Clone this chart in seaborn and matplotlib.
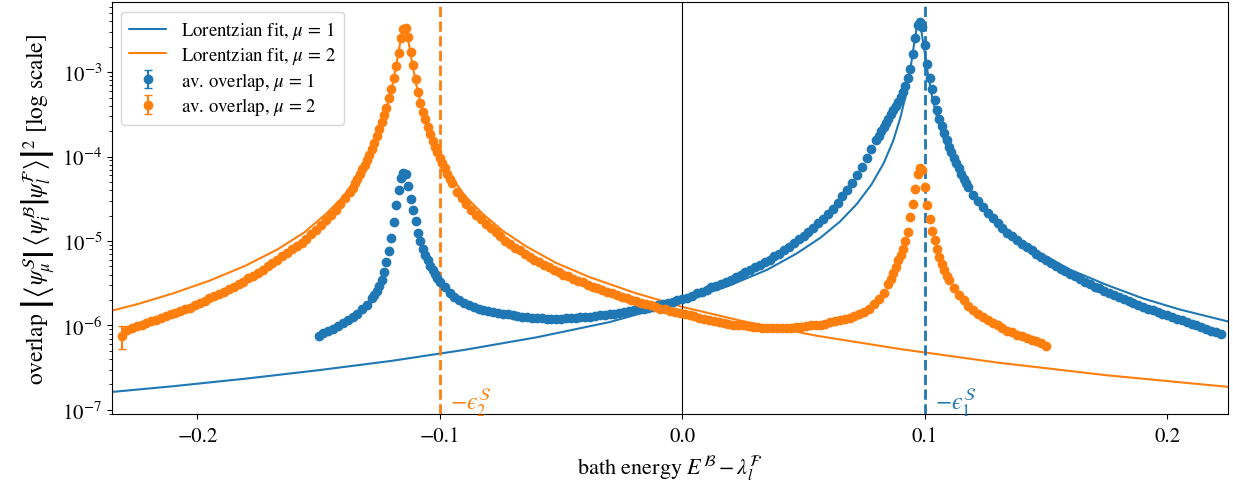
"""
Overlap of system/bath states vs bath energy, with Lorentzian fits.
Values were read off the reference figure; overlaps are stored as log10.
"""

import numpy as np
import pandas as pd
import matplotlib
matplotlib.use("Agg")
import matplotlib.pyplot as plt
import seaborn as sns

# ─── Averaged overlap, mu = 1 (blue) ───────────────────────────────────────────

blue_x = [
    -0.150, -0.148, -0.146, -0.144, -0.142, -0.140, -0.138, -0.136, -0.134, -0.132,
    -0.130,
    -0.128, -0.127, -0.126, -0.125, -0.124, -0.123, -0.122, -0.121, -0.120, -0.119,
    -0.118, -0.117, -0.116, -0.115, -0.114, -0.113, -0.112, -0.111, -0.110, -0.109,
    -0.108, -0.107, -0.106, -0.105, -0.104, -0.103, -0.102, -0.101, -0.100,
    -0.098, -0.096, -0.094, -0.092, -0.090, -0.088, -0.086, -0.084, -0.082, -0.080,
    -0.078, -0.076, -0.074, -0.072, -0.070, -0.068, -0.066, -0.064, -0.062, -0.060,
    -0.058, -0.056, -0.054, -0.052, -0.050, -0.048, -0.046, -0.044, -0.042, -0.040,
    -0.038, -0.036, -0.034, -0.032, -0.030, -0.028, -0.026, -0.024, -0.022, -0.020,
    -0.018, -0.016, -0.014, -0.012, -0.010, -0.008, -0.006, -0.004, -0.002,
    0.000, 0.002, 0.004, 0.006, 0.008, 0.010, 0.012, 0.014, 0.016, 0.018,
    0.020, 0.022, 0.024, 0.026, 0.028, 0.030, 0.032, 0.034, 0.036, 0.038,
    0.040, 0.042, 0.044, 0.046, 0.048, 0.050, 0.052, 0.054, 0.056, 0.058,
    0.060, 0.062,
    0.064, 0.066, 0.068, 0.070, 0.072, 0.074, 0.076, 0.078, 0.080,
    0.081, 0.082, 0.083, 0.084, 0.085, 0.086, 0.087, 0.088, 0.089, 0.090,
    0.091, 0.092, 0.093, 0.094, 0.095, 0.096, 0.097, 0.098, 0.099, 0.100,
    0.101, 0.102, 0.103, 0.104, 0.105, 0.106, 0.107, 0.108, 0.109, 0.110,
    0.111, 0.112, 0.113, 0.114, 0.115, 0.116, 0.117, 0.118,
    0.120, 0.122, 0.124, 0.126, 0.128, 0.130, 0.132, 0.134, 0.136, 0.138,
    0.140, 0.142, 0.144, 0.146, 0.148, 0.150, 0.152, 0.154, 0.156, 0.158,
    0.160, 0.162, 0.164, 0.166, 0.168, 0.170, 0.172, 0.174, 0.176, 0.178,
    0.180, 0.182, 0.184, 0.186, 0.188, 0.190, 0.192, 0.194, 0.196, 0.198,
    0.200, 0.202, 0.204, 0.206, 0.208, 0.210, 0.212, 0.214, 0.216, 0.218,
    0.220, 0.222,
]
blue_log = [
    -6.12, -6.09, -6.07, -6.04, -6.01, -5.97, -5.94, -5.90, -5.86, -5.81,
    -5.76,
    -5.68, -5.64, -5.59, -5.53, -5.46, -5.37, -5.25, -5.12, -4.96, -4.78,
    -4.57, -4.39, -4.25, -4.19, -4.21, -4.35, -4.50, -4.63, -4.76, -4.90,
    -5.00, -5.09, -5.16, -5.23, -5.29, -5.34, -5.39, -5.44, -5.48,
    -5.55, -5.61, -5.66, -5.70, -5.73, -5.76, -5.78, -5.80, -5.82, -5.83,
    -5.84, -5.85, -5.86, -5.87, -5.88, -5.89, -5.90, -5.90, -5.91, -5.91,
    -5.91, -5.92, -5.92, -5.92, -5.92, -5.91, -5.91, -5.91, -5.90, -5.90,
    -5.90, -5.89, -5.88, -5.88, -5.87, -5.86, -5.85, -5.84, -5.83, -5.82,
    -5.81, -5.80, -5.79, -5.78, -5.76, -5.75, -5.73, -5.72, -5.70,
    -5.69, -5.67, -5.65, -5.62, -5.60, -5.58, -5.55, -5.53, -5.51, -5.48,
    -5.46, -5.43, -5.40, -5.37, -5.34, -5.31, -5.28, -5.25, -5.22, -5.18,
    -5.15, -5.11, -5.07, -5.02, -4.98, -4.94, -4.89, -4.84, -4.79, -4.74,
    -4.68, -4.62,
    -4.55, -4.47, -4.39, -4.31, -4.22, -4.12, -4.02, -3.91, -3.80,
    -3.75, -3.70, -3.65, -3.60, -3.55, -3.50, -3.45, -3.40, -3.35, -3.29,
    -3.23, -3.16, -3.07, -2.96, -2.79, -2.60, -2.44, -2.40, -2.46, -2.68,
    -2.90, -3.07, -3.20, -3.33, -3.45, -3.55, -3.64, -3.72, -3.80, -3.88,
    -3.95, -4.02, -4.08, -4.14, -4.20, -4.26, -4.31, -4.36,
    -4.45, -4.53, -4.60, -4.67, -4.73, -4.79, -4.84, -4.90, -4.94, -4.99,
    -5.03, -5.07, -5.11, -5.15, -5.19, -5.22, -5.26, -5.30, -5.33, -5.36,
    -5.39, -5.42, -5.45, -5.48, -5.51, -5.54, -5.56, -5.59, -5.62, -5.64,
    -5.66, -5.69, -5.71, -5.73, -5.76, -5.78, -5.80, -5.82, -5.84, -5.86,
    -5.88, -5.90, -5.92, -5.94, -5.96, -5.98, -6.00, -6.02, -6.04, -6.06,
    -6.08, -6.10,
]

# ─── Averaged overlap, mu = 2 (orange) ─────────────────────────────────────────

orange_x = [
    -0.231, -0.229, -0.227, -0.225, -0.223, -0.221, -0.219, -0.217, -0.215, -0.213,
    -0.211, -0.209, -0.207, -0.205, -0.203, -0.201, -0.199, -0.197, -0.195, -0.193,
    -0.191, -0.189, -0.187, -0.185, -0.183, -0.181, -0.179, -0.177, -0.175, -0.173,
    -0.171, -0.169, -0.167, -0.165, -0.163, -0.161, -0.159,
    -0.157, -0.155, -0.153, -0.151, -0.149, -0.147, -0.145, -0.143, -0.141, -0.139,
    -0.137,
    -0.136, -0.135, -0.134, -0.133, -0.132, -0.131, -0.130, -0.129, -0.128, -0.127,
    -0.126, -0.125, -0.124, -0.123, -0.122, -0.121, -0.120, -0.119, -0.118, -0.117,
    -0.116, -0.115, -0.114, -0.113, -0.112, -0.111, -0.110, -0.109, -0.108, -0.107,
    -0.106, -0.105, -0.104, -0.103, -0.102, -0.101, -0.100, -0.099, -0.098, -0.097,
    -0.096, -0.095,
    -0.093, -0.091, -0.089, -0.087, -0.085, -0.083, -0.081, -0.079, -0.077, -0.075,
    -0.073, -0.071, -0.069, -0.067, -0.065, -0.063, -0.061, -0.059, -0.057, -0.055,
    -0.053, -0.051, -0.049, -0.047, -0.045, -0.043, -0.041, -0.039, -0.037, -0.035,
    -0.033, -0.031, -0.029, -0.027, -0.025, -0.023, -0.021, -0.019, -0.017, -0.015,
    -0.013, -0.011, -0.009, -0.007, -0.005, -0.003, -0.001,
    0.001, 0.003, 0.005, 0.007, 0.009, 0.011, 0.013, 0.015, 0.017, 0.019,
    0.021, 0.023, 0.025, 0.027, 0.029, 0.031, 0.033, 0.035, 0.037, 0.039,
    0.041, 0.043, 0.045, 0.047, 0.049, 0.051, 0.053, 0.055, 0.057, 0.059,
    0.061, 0.063, 0.065, 0.067, 0.069, 0.071, 0.073, 0.075, 0.077, 0.079,
    0.081, 0.083,
    0.085, 0.086, 0.087, 0.088, 0.089, 0.090, 0.091, 0.092, 0.093, 0.094,
    0.095, 0.096, 0.097, 0.098, 0.099, 0.100, 0.101, 0.102, 0.103, 0.104,
    0.105, 0.106, 0.107, 0.108, 0.109, 0.110,
    0.112, 0.114, 0.116, 0.118, 0.120, 0.122, 0.124, 0.126, 0.128, 0.130,
    0.132, 0.134, 0.136, 0.138, 0.140, 0.142, 0.144, 0.146, 0.148, 0.150,
]
orange_log = [
    -6.12, -6.05, -6.03, -6.01, -5.99, -5.97, -5.95, -5.93, -5.91, -5.89,
    -5.87, -5.85, -5.83, -5.81, -5.79, -5.76, -5.73, -5.71, -5.68, -5.65,
    -5.63, -5.60, -5.57, -5.54, -5.51, -5.48, -5.44, -5.41, -5.38, -5.34,
    -5.30, -5.26, -5.22, -5.18, -5.14, -5.10, -5.06,
    -5.02, -4.97, -4.92, -4.87, -4.81, -4.75, -4.69, -4.63, -4.56, -4.49,
    -4.42,
    -4.37, -4.31, -4.26, -4.20, -4.15, -4.10, -4.04, -3.98, -3.91, -3.84,
    -3.75, -3.67, -3.59, -3.51, -3.42, -3.31, -3.20, -3.07, -2.93, -2.77,
    -2.60, -2.49, -2.48, -2.58, -2.76, -2.92, -3.08, -3.23, -3.36, -3.47,
    -3.56, -3.65, -3.73, -3.81, -3.88, -3.95, -4.02, -4.08, -4.14, -4.20,
    -4.26, -4.31,
    -4.42, -4.49, -4.56, -4.63, -4.69, -4.74, -4.80, -4.85, -4.89, -4.94,
    -5.00, -5.04, -5.08, -5.11, -5.15, -5.19, -5.22, -5.25, -5.28, -5.31,
    -5.34, -5.37, -5.40, -5.42, -5.45, -5.47, -5.49, -5.52, -5.54, -5.56,
    -5.58, -5.60, -5.62, -5.64, -5.66, -5.68, -5.70, -5.71, -5.73, -5.75,
    -5.76, -5.78, -5.80, -5.81, -5.83, -5.84, -5.85,
    -5.87, -5.88, -5.89, -5.91, -5.92, -5.93, -5.95, -5.96, -5.97, -5.98,
    -5.99, -6.00, -6.00, -6.01, -6.02, -6.02, -6.03, -6.03, -6.03, -6.03,
    -6.03, -6.03, -6.03, -6.02, -6.02, -6.01, -6.00, -6.00, -5.99, -5.98,
    -5.96, -5.95, -5.94, -5.92, -5.91, -5.89, -5.87, -5.84, -5.80, -5.75,
    -5.69, -5.61,
    -5.51, -5.45, -5.38, -5.31, -5.23, -5.16, -5.09, -5.00, -4.89, -4.72,
    -4.56, -4.38, -4.21, -4.13, -4.16, -4.36, -4.57, -4.74, -4.88, -4.99,
    -5.10, -5.19, -5.27, -5.34, -5.41, -5.46,
    -5.56, -5.64, -5.70, -5.77, -5.82, -5.86, -5.90, -5.94, -5.97, -6.00,
    -6.03, -6.06, -6.08, -6.11, -6.13, -6.15, -6.17, -6.19, -6.21, -6.24,
]
# only the outermost orange point has an error bar larger than its marker
orange_err_head = [2.3e-7]

# ─── Lorentzian fits (sampled off the figure) ──────────────────────────────────

blue_fit_x = [
    -0.236, -0.21, -0.18, -0.15, -0.12, -0.09, -0.06, -0.03, 0.0, 0.02,
    0.035, 0.047, 0.057, 0.065, 0.072, 0.078, 0.083, 0.087, 0.090, 0.092,
    0.094, 0.0955, 0.0965, 0.0975, 0.0985, 0.0995, 0.101, 0.103, 0.105, 0.108,
    0.112, 0.117, 0.123, 0.130, 0.138, 0.148, 0.160, 0.175, 0.190, 0.205,
    0.226,
]
blue_fit_log = [
    -6.79, -6.72, -6.63, -6.53, -6.42, -6.29, -6.14, -5.96, -5.72, -5.52,
    -5.34, -5.15, -4.96, -4.77, -4.56, -4.33, -4.08, -3.81, -3.53, -3.29,
    -2.97, -2.68, -2.50, -2.41, -2.50, -2.68, -2.97, -3.29, -3.53, -3.81,
    -4.08, -4.33, -4.56, -4.77, -4.96, -5.15, -5.34, -5.52, -5.68, -5.81,
    -5.96,
]
orange_fit_x = [
    -0.236, -0.225, -0.21, -0.195, -0.18, -0.167, -0.156, -0.147, -0.140, -0.134,
    -0.129, -0.125, -0.122, -0.1195, -0.1175, -0.116, -0.1146, -0.1132, -0.1117, -0.1097,
    -0.1072, -0.1042, -0.1002, -0.0952, -0.0892, -0.0822, -0.074, -0.064, -0.052, -0.038,
    -0.02, 0.0, 0.025, 0.055, 0.09, 0.13, 0.175, 0.226,
]
orange_fit_log = [
    -5.83, -5.75, -5.62, -5.47, -5.29, -5.10, -4.90, -4.68, -4.48, -4.24,
    -3.99, -3.72, -3.45, -3.15, -2.84, -2.59, -2.48, -2.59, -2.84, -3.15,
    -3.45, -3.72, -3.99, -4.24, -4.48, -4.68, -4.88, -5.07, -5.26, -5.43,
    -5.61, -5.78, -5.95, -6.12, -6.28, -6.44, -6.59, -6.73,
]

# system energies eps_mu^S; the dashed lines sit at -eps
eps_S = [-0.1, 0.1]

# ─── Style ─────────────────────────────────────────────────────────────────────

BLUE = "#1f77b4"
ORANGE = "#ff7f0e"

sns.set_theme(style="ticks")
plt.rcParams.update({
    "font.family": "serif",
    "font.serif": ["STIXGeneral", "Liberation Serif", "DejaVu Serif"],
    "mathtext.fontset": "stix",
    "font.size": 15,
    "axes.edgecolor": "black",
    "axes.linewidth": 0.8,
    "axes.labelcolor": "black",
    "text.color": "black",
    "xtick.color": "black",
    "ytick.color": "black",
    "xtick.major.size": 3.5,
    "ytick.major.size": 3.5,
    "ytick.minor.size": 2,
    "xtick.major.width": 0.8,
    "ytick.major.width": 0.8,
    "ytick.minor.width": 0.6,
    "xtick.major.pad": 5,
    "xtick.labelsize": 15,
    "ytick.labelsize": 15,
})

# ─── Plot ──────────────────────────────────────────────────────────────────────

fig, ax = plt.subplots(figsize=(12.33, 4.89), dpi=100)
fig.subplots_adjust(left=0.0908, right=0.9957, bottom=0.1513, top=0.9933)

fits = [
    (blue_fit_x, blue_fit_log, BLUE, r"Lorentzian fit, $\mu$ = 1"),
    (orange_fit_x, orange_fit_log, ORANGE, r"Lorentzian fit, $\mu$ = 2"),
]
for fx, flog, color, label in fits:
    df = pd.DataFrame({"energy": fx, "overlap": 10.0 ** np.array(flog)})
    sns.lineplot(data=df, x="energy", y="overlap", ax=ax, color=color,
                 lw=1.5, label=label)

blue_y = 10.0 ** np.array(blue_log)
orange_y = 10.0 ** np.array(orange_log)
orange_err = np.zeros(len(orange_y))
orange_err[:len(orange_err_head)] = orange_err_head

ax.errorbar(blue_x, blue_y, yerr=np.zeros(len(blue_y)), fmt="o", color=BLUE,
            ms=6, capsize=3, label=r"av. overlap, $\mu$ = 1")
ax.errorbar(orange_x, orange_y, yerr=orange_err, fmt="o", color=ORANGE,
            ms=6, capsize=3, label=r"av. overlap, $\mu$ = 2")

ax.axvline(0.0, color="black", lw=0.8)
for mu, (eps, color) in enumerate(zip(eps_S, [BLUE, ORANGE]), start=1):
    ax.axvline(-eps, color=color, ls="--", lw=2)
    label = "$-\u03f5" + r"^{\mathcal{S}}_{" + str(mu) + "}$"
    ax.annotate(label, xy=(-eps, 1.22e-7), xytext=(7, 0),
                textcoords="offset points", ha="left", va="center",
                color=color, fontsize=17)

ax.set_yscale("log")
ax.set_xlim(-0.2352, 0.2249)
ax.set_ylim(8.93e-8, 6.74e-3)
ax.set_xticks([-0.2, -0.1, 0.0, 0.1, 0.2])
ax.set_xlabel(r"bath energy $E^{\mathcal{B}} - \lambda^{\mathcal{F}}_{l}$",
              fontsize=16, labelpad=6)
ax.set_ylabel(r"overlap $\left|\left\langle\psi^{\mathcal{S}}_{\mu}\right|\,"
              r"\left\langle\psi^{\mathcal{B}}_{i}\right|"
              r"\left.\psi^{\mathcal{F}}_{l}\right\rangle\right|^2$ [log scale]",
              fontsize=17)
ax.legend(loc="upper left", fontsize=13.5, labelspacing=0.2)

fig.savefig("out.png", dpi=100)
